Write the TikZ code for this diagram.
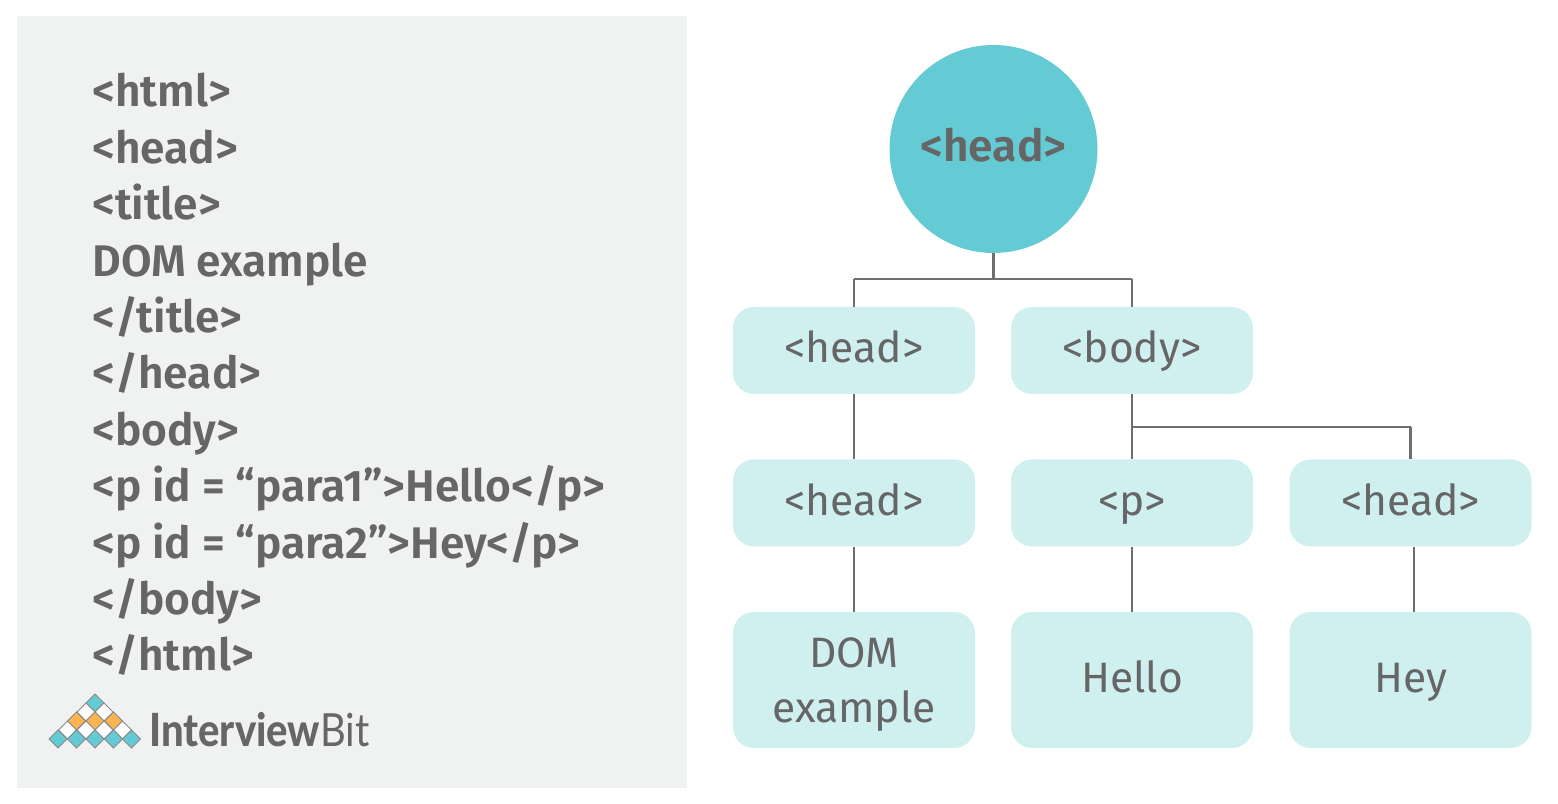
\documentclass[tikz,border=0pt]{standalone}
\usepackage{fontspec}
\setmainfont{Fira Sans}[BoldFont=Fira Sans SemiBold]
\newfontfamily\logofont{Lato}[BoldFont=Lato Heavy]
\usetikzlibrary{calc}
\definecolor{panelgray}{HTML}{F0F2F1}
\definecolor{inktext}{HTML}{666666}
\definecolor{linegray}{HTML}{6E6E6E}
\definecolor{rootteal}{HTML}{64CBD4}
\definecolor{boxteal}{HTML}{D0EFEF}
\definecolor{logoorange}{HTML}{FBB450}
\definecolor{logoedge}{HTML}{8A8A8A}
\tikzset{
	codeline/.style = {anchor=base west, inner sep=0pt, text=inktext, font=\fontsize{25.2}{30}\selectfont\bfseries},
	rootnode/.style = {circle, fill=rootteal, minimum size=4.16cm, inner sep=0pt, text=inktext, text height=.7cm, text depth=.2cm, font=\fontsize{25.2}{30}\selectfont\bfseries},
	treebox/.style = {rounded corners=.42cm, fill=boxteal, minimum width=4.84cm, minimum height=1.74cm, inner sep=0pt, align=center, text=inktext, text height=.7cm, text depth=.2cm, font=\fontsize{24.2}{31.5}\selectfont},
	tallbox/.style = {treebox, minimum height=2.72cm},
	treeline/.style = {draw=linegray, line width=1.6pt},
	logocell/.style = {draw=logoedge, line width=.5pt}
}
\begin{document}
\begin{tikzpicture}
		\useasboundingbox (0,0) rectangle (31.16,16.08);
		\fill[panelgray] (0.34,0.32) rectangle (13.74,15.76);
		% source listing
		\foreach \i/\txt in {0/{<html>},1/{<head>},2/{<title>},3/{DOM example},4/{</title>},5/{</head>},6/{<body>},7/{<p id = “para1”>Hello</p>},8/{<p id = “para2”>Hey</p>},9/{</body>},10/{</html>}}
			\node[codeline] (line\i) at (1.84, 13.94 - 1.128*\i) {\txt};
		% logo
		\foreach \cx/\cy/\col in {1.90/2.02/rootteal, 1.72/1.84/white, 2.08/1.84/white, 1.53/1.66/logoorange, 1.90/1.66/logoorange, 2.27/1.66/logoorange, 1.35/1.48/white, 1.72/1.48/white, 2.08/1.48/white, 2.45/1.48/white, 1.16/1.30/rootteal, 1.53/1.30/rootteal, 1.90/1.30/rootteal, 2.27/1.30/rootteal, 2.63/1.30/rootteal}
			\draw[logocell, fill=\col] (\cx-.18,\cy) -- (\cx,\cy+.18) -- (\cx+.18,\cy) -- (\cx,\cy-.18) -- cycle;
		\node[anchor=base west, inner sep=0pt, text=inktext, font=\fontsize{26}{30}\logofont] (logo) at (2.98,1.14) {\scalebox{.875}[1]{\textbf{Interview}Bit}};
		% tree
		\node[rootnode] (root) at (19.87,13.10) {<head>};
		\node[treebox] (head) at (17.08,9.07) {<head>};
		\node[treebox] (body) at (22.64,9.07) {<body>};
		\node[treebox] (headB) at (17.08,6.02) {<head>};
		\node[treebox] (p) at (22.64,6.02) {<p>};
		\node[treebox] (headC) at (28.21,6.02) {<head>};
		\node[tallbox, text height=, text depth=] (dom) at (17.08,2.48) {\rule{0pt}{.78cm}DOM\\example};
		\node[tallbox] (hello) at (22.64,2.48) {Hello};
		\node[tallbox] (hey) at (28.21,2.48) {Hey};
		\coordinate (rootfork) at (19.87,10.50);
		\coordinate (bodyfork) at (22.64,7.54);
		\path[every edge/.style=treeline] (root.south) edge (rootfork)
			(rootfork) edge (rootfork -| head.north)
			(rootfork) edge (rootfork -| body.north)
			(rootfork -| head.north) edge (head.north)
			(rootfork -| body.north) edge (body.north)
			(head.south) edge (headB.north)
			(body.south) edge (p.north)
			(bodyfork) edge (bodyfork -| headC.north)
			(bodyfork -| headC.north) edge (headC.north)
			(headB.south) edge (dom.north)
			(p.south) edge (hello.north)
			($(headC.south) + (0.07,0)$) edge ($(hey.north) + (0.07,0)$);
	\end{tikzpicture}
\end{document}
